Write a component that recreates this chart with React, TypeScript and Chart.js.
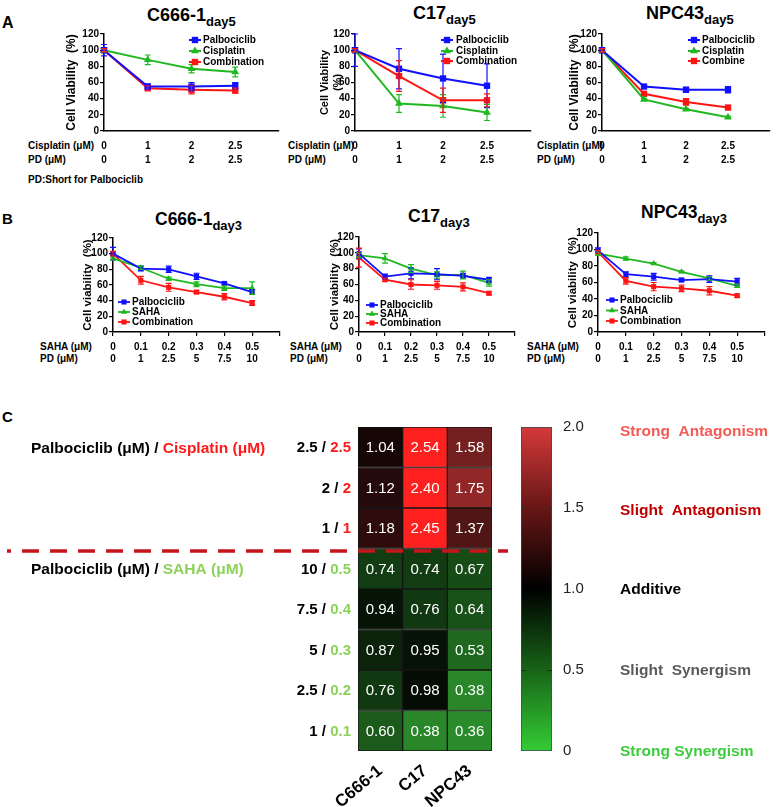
import React, { useEffect, useRef } from 'react';
import { Chart, registerables } from 'chart.js';

Chart.register(...registerables);

const FONT = "'Liberation Sans', Arial, Helvetica, sans-serif";
const BLUE = '#1010ff';
const GREEN = '#20b820';
const RED = '#ff1414';
const TXT_RED = '#ff1a1a';
const TXT_GREEN = '#8cd25a';

// ---------------- Panel A (day 5) ----------------
const cisplatinDoseA = ['0', '1', '2', '2.5'];
const pdDoseA = ['0', '1', '2', '2.5'];

const c666Day5Palbo = [100, 55, 55, 56];
const c666Day5PalboErr = [7, 3, 5, 4];
const c666Day5Cis = [100, 88, 77, 73];
const c666Day5CisErr = [2, 6, 5, 6];
const c666Day5Combo = [100, 53, 51, 50];
const c666Day5ComboErr = [2, 3, 5, 3];

const c17Day5Palbo = [100, 77, 65, 56];
const c17Day5PalboErr = [20, 25, 30, 27];
const c17Day5Cis = [100, 34, 31, 23];
const c17Day5CisErr = [2, 11, 14, 10];
const c17Day5Combo = [100, 68, 38, 38];
const c17Day5ComboErr = [2, 19, 15, 8];

const npc43Day5Palbo = [100, 55, 51, 51];
const npc43Day5PalboErr = [3, 2, 3, 4];
const npc43Day5Cis = [100, 39, 27, 17];
const npc43Day5CisErr = [2, 1, 1, 1];
const npc43Day5Combo = [100, 46, 36, 29];
const npc43Day5ComboErr = [2, 2, 4, 2];

// ---------------- Panel B (day 3) ----------------
const sahaDoseB = ['0', '0.1', '0.2', '0.3', '0.4', '0.5'];
const pdDoseB = ['0', '1', '2.5', '5', '7.5', '10'];

const c666Day3Palbo = [100, 81, 80, 71, 62, 51];
const c666Day3PalboErr = [8, 3, 4, 4, 2, 3];
const c666Day3Saha = [94, 82, 68, 61, 56, 56];
const c666Day3SahaErr = [2, 2, 2, 3, 3, 8];
const c666Day3Combo = [100, 66, 57, 51, 45, 37];
const c666Day3ComboErr = [3, 5, 5, 2, 4, 3];

const c17Day3Palbo = [99, 70, 74, 73, 71, 66];
const c17Day3PalboErr = [6, 3, 7, 7, 3, 3];
const c17Day3Saha = [97, 93, 80, 72, 72, 62];
const c17Day3SahaErr = [3, 6, 5, 4, 5, 4];
const c17Day3Combo = [94, 66, 60, 59, 57, 49];
const c17Day3ComboErr = [12, 2, 6, 5, 5, 2];

const npc43Day3Palbo = [99, 70, 67, 63, 64, 61];
const npc43Day3PalboErr = [3, 3, 4, 2, 4, 4];
const npc43Day3Saha = [95, 89, 83, 73, 65, 56];
const npc43Day3SahaErr = [2, 2, 1, 1, 2, 2];
const npc43Day3Combo = [97, 62, 55, 53, 50, 44];
const npc43Day3ComboErr = [2, 4, 5, 4, 5, 2];

// ---------------- Panel C (combination index heatmap) ----------------
const cellLines = ['C666-1', 'C17', 'NPC43'];
const rowPalbo = ['2.5', '2', '1', '10', '7.5', '5', '2.5', '1'];
const rowPartner = ['2.5', '2', '1', '0.5', '0.4', '0.3', '0.2', '0.1'];
const rowDrug = ['Cisplatin', 'Cisplatin', 'Cisplatin', 'SAHA', 'SAHA', 'SAHA', 'SAHA', 'SAHA'];
const ciC666 = [1.04, 1.12, 1.18, 0.74, 0.94, 0.87, 0.76, 0.6];
const ciC17 = [2.54, 2.4, 2.45, 0.74, 0.76, 0.95, 0.98, 0.38];
const ciNPC43 = [1.58, 1.75, 1.37, 0.67, 0.64, 0.53, 0.38, 0.36];

const colorbarTicks = [0, 0.5, 1, 1.5, 2];
const colorbarTickLabels = ['0', '0.5', '1.0', '1.5', '2.0'];
const colorbarCategories = ['Strong Synergism', 'Slight  Synergism', 'Additive', 'Slight  Antagonism', 'Strong  Antagonism'];
const colorbarCategoryColors = ['#3ccc3c', '#5a5a5c', '#000000', '#c00000', '#f35b55'];

// ---------------- helpers ----------------
type Series = { label: string; values: number[]; errors: number[]; color: string; marker: 'rect' | 'triangle' };

function drawMarker(ctx: CanvasRenderingContext2D, kind: string, x: number, y: number, r: number) {
  ctx.beginPath();
  if (kind === 'rect') {
    const s = r * Math.SQRT1_2;
    ctx.rect(x - s, y - s, 2 * s, 2 * s);
  } else {
    ctx.moveTo(x, y - r);
    ctx.lineTo(x + r * 0.866, y + r * 0.5);
    ctx.lineTo(x - r * 0.866, y + r * 0.5);
    ctx.closePath();
  }
  ctx.fill();
}

function LineChart({ spec }: { spec: any }) {
  const ref = useRef<HTMLCanvasElement | null>(null);
  const c = spec.canvas;
  useEffect(() => {
    const s = spec;
    const yW = s.area.left - c.left;
    const xH = c.top + c.height - s.area.bottom;
    const padTop = s.area.top - c.top;
    const padRight = c.left + c.width - s.area.right;
    const titlePad = s.yTitleCenter - c.left - s.yTitleLine / 2;
    const tickLen = s.xTickMarks ? 4 : 0;
    const xPad = s.xLabelFirst - s.area.bottom - tickLen - s.xLabelLine / 2;
    const tickFont = { family: FONT, size: 10, weight: 'bold' as any };

    const extras = {
      id: 'extras',
      afterDatasetsDraw(chart: any) {
        const ctx = chart.ctx as CanvasRenderingContext2D;
        const ys = chart.scales.y;
        ctx.save();
        s.series.forEach((se: Series, di: number) => {
          const meta = chart.getDatasetMeta(di);
          ctx.strokeStyle = se.color;
          ctx.lineWidth = 1.2;
          se.values.forEach((v, i) => {
            const e = se.errors[i];
            if (!e) return;
            const px = meta.data[i].x;
            const y1 = ys.getPixelForValue(v + e);
            const y2 = ys.getPixelForValue(v - e);
            ctx.beginPath();
            ctx.moveTo(px, y1);
            ctx.lineTo(px, y2);
            ctx.moveTo(px - 3, y1);
            ctx.lineTo(px + 3, y1);
            ctx.moveTo(px - 3, y2);
            ctx.lineTo(px + 3, y2);
            ctx.stroke();
          });
        });
        ctx.font = `bold 10px ${FONT}`;
        ctx.textBaseline = 'middle';
        ctx.textAlign = 'left';
        s.series.forEach((se: Series, i: number) => {
          const ly = s.legend.rows[i] - c.top;
          const lx = s.legend.markerX - c.left;
          ctx.strokeStyle = se.color;
          ctx.fillStyle = se.color;
          ctx.lineWidth = s.lineWidth;
          ctx.beginPath();
          ctx.moveTo(lx - 6, ly);
          ctx.lineTo(lx + 6, ly);
          ctx.stroke();
          drawMarker(ctx, se.marker, lx, ly, s.pointRadius);
          ctx.fillStyle = '#000';
          ctx.fillText(se.label, s.legend.textX - c.left, ly + 0.5);
        });
        ctx.restore();
      },
    };

    const chart = new Chart(ref.current as HTMLCanvasElement, {
      type: 'line',
      data: {
        datasets: s.series.map((se: Series) => ({
          label: se.label,
          data: se.values.map((v, i) => ({ x: i, y: v })),
          borderColor: se.color,
          backgroundColor: se.color,
          pointBackgroundColor: se.color,
          pointBorderColor: se.color,
          borderWidth: s.lineWidth,
          pointStyle: se.marker,
          pointRadius: s.pointRadius,
          pointBorderWidth: 0,
          tension: 0,
          clip: false as any,
        })),
      },
      options: {
        responsive: false,
        maintainAspectRatio: false,
        animation: false,
        events: [],
        layout: { padding: { top: padTop, right: padRight, left: 0, bottom: 0 } },
        plugins: { legend: { display: false }, tooltip: { enabled: false } },
        scales: {
          x: {
            type: 'linear',
            min: 0,
            max: s.xMax,
            afterFit: (sc: any) => { sc.height = xH; },
            grid: { display: s.xTickMarks, drawOnChartArea: false, drawTicks: s.xTickMarks, tickLength: 4, color: '#000', lineWidth: 1.2 },
            border: { display: true, color: '#000', width: 1.5 },
            ticks: {
              stepSize: 1,
              autoSkip: false,
              maxRotation: 0,
              minRotation: 0,
              padding: xPad,
              color: '#000',
              font: { ...tickFont, lineHeight: s.xLabelLine + 'px' },
              callback: (v: any) => {
                const i = Number(v);
                if (i < s.tickRows[0].length) return s.tickRows.map((r: string[]) => r[i]);
                return '';
              },
            },
          },
          y: {
            min: 0,
            max: 120,
            afterFit: (sc: any) => { sc.width = yW; },
            grid: { drawOnChartArea: false, drawTicks: true, tickLength: 4, color: '#000', lineWidth: 1.2 },
            border: { display: true, color: '#000', width: 1.5 },
            ticks: { stepSize: 20, padding: 1, color: '#000', font: tickFont },
            title: {
              display: true,
              text: s.yTitle,
              color: '#000',
              font: { family: FONT, size: s.yTitleSize, weight: 'bold' as any, lineHeight: s.yTitleLine + 'px' },
              padding: { top: titlePad, bottom: 0 },
            },
          },
        },
      },
      plugins: [extras],
    });
    return () => chart.destroy();
  }, [spec]);
  return (
    <canvas
      ref={ref}
      width={c.width}
      height={c.height}
      style={{ position: 'absolute', left: c.left, top: c.top, width: c.width, height: c.height }}
    />
  );
}

function ciColor(v: number) {
  if (v >= 1) {
    const t = v - 1;
    const r = Math.min(255, Math.round(15 + 175 * t));
    const gb = v >= 2.2 ? 32 : Math.round(r * 0.27);
    return `rgb(${r},${gb},${gb})`;
  }
  const t = 1 - v;
  const g = Math.round(8 + 205 * t);
  const rb = Math.round(g * 0.3);
  return `rgb(${rb},${g},${rb})`;
}

const HM = { left: 0, top: 400, width: 512, height: 407, areaLeft: 358, areaTop: 427, areaRight: 492, areaBottom: 751 };

function Heatmap() {
  const ref = useRef<HTMLCanvasElement | null>(null);
  useEffect(() => {
    const cols = [ciC666, ciC17, ciNPC43];
    const extras = {
      id: 'hmExtras',
      afterDatasetsDraw(chart: any) {
        const ctx = chart.ctx as CanvasRenderingContext2D;
        const ys = chart.scales.y;
        ctx.save();
        // cell values
        ctx.font = `15px ${FONT}`;
        ctx.fillStyle = '#fff';
        ctx.textAlign = 'center';
        ctx.textBaseline = 'middle';
        rowPalbo.forEach((_, r) => {
          const meta = chart.getDatasetMeta(r);
          meta.data.forEach((bar: any, k: number) => {
            const p = bar.getCenterPoint();
            ctx.fillText(cols[k][r].toFixed(2), p.x, p.y + 1);
          });
        });
        // row labels
        ctx.font = `bold 15px ${FONT}`;
        ctx.textAlign = 'right';
        const rx = 351 - HM.left;
        rowPalbo.forEach((pd, r) => {
          const y = ys.getPixelForValue(r + 0.5) + 1;
          const partnerColor = rowDrug[r] === 'Cisplatin' ? TXT_RED : TXT_GREEN;
          ctx.fillStyle = partnerColor;
          ctx.fillText(rowPartner[r], rx, y);
          const w = ctx.measureText(rowPartner[r]).width;
          ctx.fillStyle = '#000';
          ctx.fillText(pd + ' / ', rx - w, y);
        });
        // group headers
        ctx.font = `bold 15.5px ${FONT}`;
        ctx.textAlign = 'left';
        rowDrug.forEach((d, r) => {
          if (r > 0 && rowDrug[r - 1] === d) return;
          const y = ys.getPixelForValue(r + 0.5) + 1;
          const head = 'Palbociclib (\u03bcM) / ';
          ctx.fillStyle = '#000';
          ctx.fillText(head, 31 - HM.left, y);
          const w = ctx.measureText(head).width;
          ctx.fillStyle = d === 'Cisplatin' ? TXT_RED : TXT_GREEN;
          ctx.fillText(d + ' (\u03bcM)', 31 - HM.left + w, y);
        });
        // dashed separator
        rowDrug.forEach((d, r) => {
          if (r === 0 || rowDrug[r - 1] === d) return;
          const y = ys.getPixelForValue(r) + 2.5;
          ctx.strokeStyle = '#c4161c';
          ctx.lineWidth = 3.5;
          ctx.setLineDash([17, 11]);
          ctx.lineDashOffset = 13;
          ctx.beginPath();
          ctx.moveTo(7 - HM.left, y);
          ctx.lineTo(508 - HM.left, y);
          ctx.stroke();
          ctx.setLineDash([]);
        });
        ctx.restore();
      },
    };
    const chart = new Chart(ref.current as HTMLCanvasElement, {
      type: 'bar',
      data: {
        labels: cellLines,
        datasets: rowPalbo.map((pd, r) => ({
          label: `${pd} / ${rowPartner[r]}`,
          data: cellLines.map(() => 1),
          backgroundColor: cols.map((col) => ciColor(col[r])),
          borderColor: '#161616',
          borderWidth: 1,
          borderSkipped: false as any,
          barPercentage: 1,
          categoryPercentage: 1,
        })),
      },
      options: {
        responsive: false,
        maintainAspectRatio: false,
        animation: false,
        events: [],
        layout: {
          padding: {
            left: HM.areaLeft - HM.left,
            right: HM.left + HM.width - HM.areaRight,
            top: HM.areaTop - HM.top,
            bottom: 0,
          },
        },
        plugins: { legend: { display: false }, tooltip: { enabled: false } },
        scales: {
          x: {
            stacked: true,
            afterFit: (sc: any) => { sc.height = HM.top + HM.height - HM.areaBottom; },
            grid: { display: false, drawTicks: false },
            border: { display: false },
            ticks: {
              minRotation: 40,
              maxRotation: 40,
              padding: 10,
              color: '#000',
              font: { family: FONT, size: 17, weight: 'bold' as any },
            },
          },
          y: { stacked: true, display: false, min: 0, max: rowPalbo.length, reverse: true },
        },
      },
      plugins: [extras],
    });
    return () => chart.destroy();
  }, []);
  return (
    <canvas
      ref={ref}
      width={HM.width}
      height={HM.height}
      style={{ position: 'absolute', left: HM.left, top: HM.top, width: HM.width, height: HM.height }}
    />
  );
}

const CB = { left: 510, top: 400, width: 268, height: 407, areaLeft: 521, areaRight: 552, areaTop: 427, areaBottom: 751, catX: 620 };

function ColorBar() {
  const ref = useRef<HTMLCanvasElement | null>(null);
  useEffect(() => {
    const extras = {
      id: 'cbExtras',
      afterDatasetsDraw(chart: any) {
        const ctx = chart.ctx as CanvasRenderingContext2D;
        const ys = chart.scales.y;
        const a = chart.chartArea;
        ctx.save();
        ctx.strokeStyle = '#2a2a2a';
        ctx.lineWidth = 1;
        [0.5, 1.5].forEach((v) => {
          const y = Math.round(ys.getPixelForValue(v)) + 0.5;
          ctx.beginPath();
          ctx.moveTo(a.left, y);
          ctx.lineTo(a.left + 5, y);
          ctx.moveTo(a.right - 5, y);
          ctx.lineTo(a.right, y);
          ctx.stroke();
        });
        ctx.font = `bold 15.5px ${FONT}`;
        ctx.textAlign = 'left';
        ctx.textBaseline = 'middle';
        colorbarTicks.forEach((v, i) => {
          ctx.fillStyle = colorbarCategoryColors[i];
          const off = v === 2 ? 5 : v === 1.5 ? 3 : 1;
          ctx.fillText(colorbarCategories[i], CB.catX - CB.left, ys.getPixelForValue(v) + off);
        });
        ctx.restore();
      },
    };
    const chart = new Chart(ref.current as HTMLCanvasElement, {
      type: 'bar',
      data: {
        labels: [''],
        datasets: [
          {
            label: 'CI',
            data: [[colorbarTicks[0], colorbarTicks[colorbarTicks.length - 1]]] as any,
            backgroundColor: (ctx: any) => {
              const chart = ctx.chart;
              const area = chart.chartArea;
              if (!area) return '#000';
              const g = chart.ctx.createLinearGradient(0, area.top, 0, area.bottom);
              g.addColorStop(0, 'rgb(212,58,58)');
              g.addColorStop(0.25, 'rgb(104,22,22)');
              g.addColorStop(0.5, 'rgb(0,0,0)');
              g.addColorStop(0.75, 'rgb(24,100,24)');
              g.addColorStop(1, 'rgb(52,204,52)');
              return g;
            },
            borderColor: '#3a4660',
            borderWidth: 1,
            borderSkipped: false as any,
            barPercentage: 1,
            categoryPercentage: 1,
          },
        ],
      },
      options: {
        responsive: false,
        maintainAspectRatio: false,
        animation: false,
        events: [],
        layout: {
          padding: {
            left: CB.areaLeft - CB.left,
            right: 0,
            top: CB.areaTop - CB.top,
            bottom: CB.top + CB.height - CB.areaBottom,
          },
        },
        plugins: { legend: { display: false }, tooltip: { enabled: false } },
        scales: {
          x: { display: false },
          y: {
            position: 'right',
            min: 0,
            max: 2,
            afterFit: (sc: any) => { sc.width = CB.left + CB.width - CB.areaRight; },
            grid: { display: false, drawTicks: false },
            border: { display: false },
            ticks: {
              stepSize: 0.5,
              padding: 11,
              color: '#222',
              font: { family: FONT, size: 15 },
              callback: (v: any) => {
                const i = colorbarTicks.indexOf(Number(v));
                return i >= 0 ? colorbarTickLabels[i] : '';
              },
            },
          },
        },
      },
      plugins: [extras],
    });
    return () => chart.destroy();
  }, []);
  return (
    <canvas
      ref={ref}
      width={CB.width}
      height={CB.height}
      style={{ position: 'absolute', left: CB.left, top: CB.top, width: CB.width, height: CB.height }}
    />
  );
}

// ---------------- chart specs ----------------
const seriesA = (p: number[], pe: number[], c: number[], ce: number[], m: number[], me: number[], comboLabel: string): Series[] => [
  { label: 'Palbociclib', values: p, errors: pe, color: BLUE, marker: 'rect' },
  { label: 'Cisplatin', values: c, errors: ce, color: GREEN, marker: 'triangle' },
  { label: comboLabel, values: m, errors: me, color: RED, marker: 'rect' },
];
const seriesB = (p: number[], pe: number[], c: number[], ce: number[], m: number[], me: number[]): Series[] => [
  { label: 'Palbociclib', values: p, errors: pe, color: BLUE, marker: 'rect' },
  { label: 'SAHA', values: c, errors: ce, color: GREEN, marker: 'triangle' },
  { label: 'Combination', values: m, errors: me, color: RED, marker: 'rect' },
];

const commonA = { xMax: 4, tickRows: [cisplatinDoseA, pdDoseA], xTickMarks: false, xLabelLine: 14, xLabelFirst: 146, lineWidth: 2, pointRadius: 4.5 };
const commonB = { xMax: 6, tickRows: [sahaDoseB, pdDoseB], xTickMarks: true, xLabelLine: 12.5, xLabelFirst: 347, lineWidth: 1.8, pointRadius: 3.6 };

const specA1 = {
  ...commonA,
  canvas: { left: 60, top: 26, width: 240, height: 145 },
  area: { left: 104, top: 34, right: 279, bottom: 131 },
  series: seriesA(c666Day5Palbo, c666Day5PalboErr, c666Day5Cis, c666Day5CisErr, c666Day5Combo, c666Day5ComboErr, 'Combination'),
  yTitle: 'Cell Viability  (%)', yTitleSize: 12, yTitleLine: 14.4, yTitleCenter: 72,
  legend: { markerX: 195, textX: 203, rows: [40, 51, 62] },
};
const specA2 = {
  ...commonA,
  canvas: { left: 308, top: 26, width: 243, height: 145 },
  area: { left: 355, top: 34, right: 531, bottom: 131 },
  series: seriesA(c17Day5Palbo, c17Day5PalboErr, c17Day5Cis, c17Day5CisErr, c17Day5Combo, c17Day5ComboErr, 'Combination'),
  yTitle: ['Cell Viability', '(%)'], yTitleSize: 11, yTitleLine: 13, yTitleCenter: 325,
  legend: { markerX: 447, textX: 456, rows: [40, 51, 61] },
};
const specA3 = {
  ...commonA,
  canvas: { left: 558, top: 26, width: 220, height: 145 },
  area: { left: 602, top: 34, right: 777, bottom: 131 },
  series: seriesA(npc43Day5Palbo, npc43Day5PalboErr, npc43Day5Cis, npc43Day5CisErr, npc43Day5Combo, npc43Day5ComboErr, 'Combine'),
  yTitle: 'Cell Viability  (%)', yTitleSize: 12, yTitleLine: 14.4, yTitleCenter: 575,
  legend: { markerX: 694, textX: 702, rows: [40, 51, 61] },
};
const specB1 = {
  ...commonB,
  canvas: { left: 72, top: 222, width: 218, height: 145 },
  area: { left: 113, top: 238, right: 280, bottom: 332 },
  series: seriesB(c666Day3Palbo, c666Day3PalboErr, c666Day3Saha, c666Day3SahaErr, c666Day3Combo, c666Day3ComboErr),
  yTitle: 'Cell viability  (%)', yTitleSize: 11.5, yTitleLine: 13.8, yTitleCenter: 88,
  legend: { markerX: 124, textX: 132, rows: [302, 312, 322] },
};
const specB2 = {
  ...commonB,
  canvas: { left: 318, top: 222, width: 202, height: 145 },
  area: { left: 359, top: 237, right: 515, bottom: 332 },
  series: seriesB(c17Day3Palbo, c17Day3PalboErr, c17Day3Saha, c17Day3SahaErr, c17Day3Combo, c17Day3ComboErr),
  yTitle: 'Cell viability  (%)', yTitleSize: 11.5, yTitleLine: 13.8, yTitleCenter: 335,
  legend: { markerX: 372, textX: 380, rows: [305, 314, 323] },
};
const specB3 = {
  ...commonB,
  canvas: { left: 556, top: 222, width: 222, height: 145 },
  area: { left: 598, top: 233, right: 765, bottom: 332 },
  series: seriesB(npc43Day3Palbo, npc43Day3PalboErr, npc43Day3Saha, npc43Day3SahaErr, npc43Day3Combo, npc43Day3ComboErr),
  yTitle: 'Cell viability  (%)', yTitleSize: 11.5, yTitleLine: 13.8, yTitleCenter: 573,
  legend: { markerX: 612, textX: 620, rows: [300, 310.5, 321] },
};

// ---------------- HTML text helpers ----------------
function Txt({ x, y, size, color = '#000', bold = true, children }: any) {
  return (
    <div
      style={{
        position: 'absolute',
        left: x,
        top: y - 0.49 * size,
        font: `${bold ? 'bold ' : ''}${size}px ${FONT}`,
        lineHeight: 1,
        whiteSpace: 'nowrap',
        color,
      }}
    >
      {children}
    </div>
  );
}

function Title({ x, capTop, main, sub, size, subSize }: any) {
  return (
    <div
      style={{
        position: 'absolute',
        left: x,
        top: capTop - 0.13 * size,
        font: `bold ${size}px ${FONT}`,
        lineHeight: 1,
        whiteSpace: 'nowrap',
        color: '#000',
      }}
    >
      {main}
      <span style={{ fontSize: subSize, position: 'relative', top: 5 }}>{sub}</span>
    </div>
  );
}

export default function App() {
  return (
    <div
      style={{
        position: 'absolute',
        left: 0,
        top: 0,
        width: 778,
        height: 807,
        background: '#fff',
        overflow: 'hidden',
        fontFamily: FONT,
      }}
    >
      {/* panel letters */}
      <div style={{ position: 'absolute', left: 2, top: 15, font: `bold 16px ${FONT}`, lineHeight: 1 }}>A</div>
      <div style={{ position: 'absolute', left: 2, top: 211, font: `bold 15px ${FONT}`, lineHeight: 1 }}>B</div>
      <div style={{ position: 'absolute', left: 2, top: 409, font: `bold 15px ${FONT}`, lineHeight: 1 }}>C</div>

      {/* titles */}
      <Title x={147} capTop={8} main="C666-1" sub="day5" size={18} subSize={13} />
      <Title x={413} capTop={6} main="C17" sub="day5" size={18} subSize={13} />
      <Title x={646} capTop={6} main="NPC43" sub="day5" size={18} subSize={13} />
      <Title x={155} capTop={213} main="C666-1" sub="day3" size={17.5} subSize={13} />
      <Title x={408} capTop={210} main="C17" sub="day3" size={17.5} subSize={13} />
      <Title x={641} capTop={206} main="NPC43" sub="day3" size={17.5} subSize={13} />

      {/* dose row headers */}
      <Txt x={28} y={146} size={10}>Cisplatin (μM)</Txt>
      <Txt x={28} y={160} size={10}>PD (μM)</Txt>
      <Txt x={288} y={146} size={10}>Cisplatin (μM)</Txt>
      <Txt x={288} y={160} size={10}>PD (μM)</Txt>
      <Txt x={537} y={146} size={10}>Cisplatin (μM)</Txt>
      <Txt x={537} y={160} size={10}>PD (μM)</Txt>
      <Txt x={28} y={180} size={10}>PD:Short for Palbociclib</Txt>

      <Txt x={40} y={347} size={10}>SAHA (μM)</Txt>
      <Txt x={40} y={359} size={10}>PD (μM)</Txt>
      <Txt x={290} y={347} size={10}>SAHA (μM)</Txt>
      <Txt x={290} y={359} size={10}>PD (μM)</Txt>
      <Txt x={527} y={347} size={10}>SAHA (μM)</Txt>
      <Txt x={527} y={359} size={10}>PD (μM)</Txt>

      <LineChart spec={specA1} />
      <LineChart spec={specA2} />
      <LineChart spec={specA3} />
      <LineChart spec={specB1} />
      <LineChart spec={specB2} />
      <LineChart spec={specB3} />

      <Heatmap />
      <ColorBar />
    </div>
  );
}
